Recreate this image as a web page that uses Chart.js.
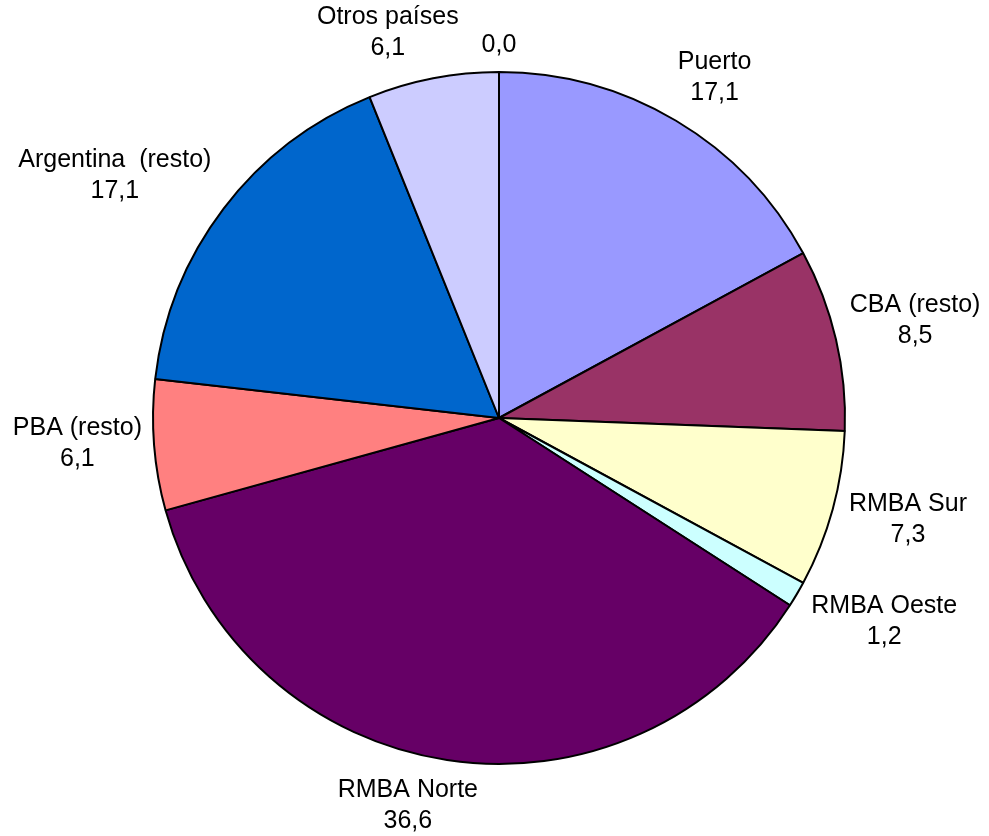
<!DOCTYPE html>
<html>
<head>
<meta charset="utf-8">
<script src="https://cdn.jsdelivr.net/npm/chart.js@4/dist/chart.umd.min.js"></script>
<style>
  html, body { margin: 0; padding: 0; background: #ffffff; }
  #wrap { width: 989px; height: 836px; position: relative; }
</style>
</head>
<body>
<div id="wrap"><canvas id="c"></canvas></div>
<script>
// ---- data ----
const categories = ['Puerto', 'CBA (resto)', 'RMBA Sur', 'RMBA Oeste', 'RMBA Norte', 'PBA (resto)', 'Argentina  (resto)', 'Otros países', ''];
const shares = [17.1, 8.5, 7.3, 1.2, 36.6, 6.1, 17.1, 6.1, 0.0];
const sliceColors = ['#9999FF', '#993366', '#FFFFCC', '#CCFFFF', '#660066', '#FF8080', '#0066CC', '#CCCCFF', '#FFFFFF'];

const labelFont = '25px "Liberation Sans", Arial, sans-serif';
const lineH = 31;

const outsideLabels = {
  id: 'outsideLabels',
  afterDraw(chart, args, opts) {
    const ctx = chart.ctx;
    const meta = chart.getDatasetMeta(0);
    const nudges = opts.angleNudge || [];
    ctx.save();
    ctx.font = labelFont;
    ctx.fillStyle = '#000000';
    ctx.textAlign = 'center';
    ctx.textBaseline = 'middle';
    meta.data.forEach((arc, i) => {
      const p = arc.getProps(['x', 'y', 'startAngle', 'endAngle', 'outerRadius'], true);
      const mid = (p.startAngle + p.endAngle) / 2 + (nudges[i] || 0) * Math.PI / 180;
      const dx = Math.cos(mid), dy = Math.sin(mid);
      const val = chart.data.datasets[0].data[i].toFixed(1).replace('.', ',');
      const name = chart.data.labels[i];
      const lines = name ? [name, val] : [val];
      let w = 0;
      lines.forEach(l => { w = Math.max(w, ctx.measureText(l).width); });
      const hw = w / 2, hh = lines.length * lineH / 2;
      const target = p.outerRadius + (opts.gap || 11);
      let lo = 0, hi = 1200;
      for (let k = 0; k < 60; k++) {
        const t = (lo + hi) / 2;
        const ox = Math.max(Math.abs(t * dx) - hw, 0);
        const oy = Math.max(Math.abs(t * dy) - hh, 0);
        if (Math.hypot(ox, oy) < target) lo = t; else hi = t;
      }
      const cx = p.x + lo * dx, cy = p.y + lo * dy;
      lines.forEach((l, j) => {
        ctx.fillText(l, cx, cy - hh + lineH / 2 + j * lineH);
      });
    });
    ctx.restore();
  }
};

new Chart(document.getElementById('c'), {
  type: 'pie',
  data: {
    labels: categories,
    datasets: [{
      data: shares,
      backgroundColor: sliceColors,
      borderColor: '#000000',
      borderWidth: 2
    }]
  },
  options: {
    responsive: true,
    maintainAspectRatio: false,
    animation: false,
    layout: { padding: { left: 152, right: 143, top: 71, bottom: 71 } },
    plugins: {
      legend: { display: false },
      tooltip: { enabled: false },
      outsideLabels: { gap: 11, angleNudge: [1.6, 0, -1.3, -2.7, 4.6, 1, -5, -5.1, 0] }
    }
  },
  plugins: [outsideLabels]
});
</script>
</body>
</html>
